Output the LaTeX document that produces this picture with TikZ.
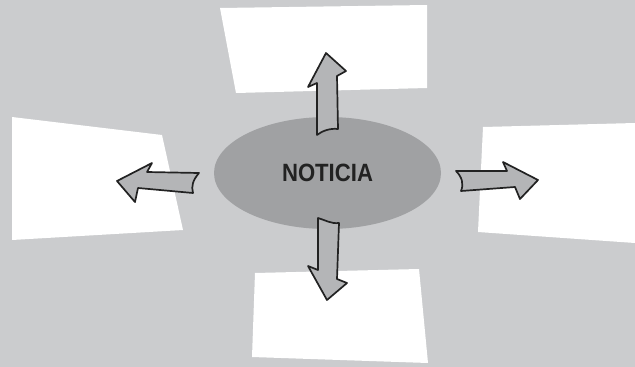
\documentclass[tikz,border=0pt]{standalone}
\usepackage{fontspec}
\setmainfont{Liberation Sans}
\usetikzlibrary{shapes.geometric}
\definecolor{bgc}{RGB}{203,204,206}
\definecolor{ellc}{RGB}{160,161,163}
\definecolor{arrc}{RGB}{180,181,183}
\definecolor{inkc}{RGB}{34,34,34}
\tikzset{
  card/.style={fill=white, draw=none},
  fatarrow/.style={fill=arrc, draw=inkc, line width=1.7pt, line join=round, line cap=round},
  hub/.style={ellipse, fill=ellc, draw=none, minimum width=227pt, minimum height=112pt, inner sep=0pt,
    font=\bfseries\fontsize{25}{25}\selectfont, text=inkc}
}
\begin{document}
\begin{tikzpicture}[x=1pt,y=-1pt]
\fill[bgc] (0,0) rectangle (635,367);
\useasboundingbox (0,0) rectangle (635,367);
% white cards
\fill[card] (220,8) -- (427,5) -- (427,88) -- (236,93) -- cycle;
\fill[card] (12,117) -- (162,135) -- (183,230) -- (12,240) -- cycle;
\fill[card] (483,127) -- (635,123) -- (635,243) -- (478,232) -- cycle;
\fill[card] (255,273) -- (419,269) -- (428,363) -- (252,357) -- cycle;
% hub
\node[hub] (hub) at (327.5,173) {\scalebox{0.885}[1]{NOTICIA}};
% up arrow
\draw[fatarrow] (326,53) -- (346,71) -- (337,76) -- (338,129)
  .. controls (330,128) and (322,131) .. (317,135) -- (317,83) -- (308,87) -- cycle;
% down arrow
\draw[fatarrow] (318,218) .. controls (325,220) and (331,224) .. (339,223)
  -- (337,279) -- (347,283) -- (327,300) -- (308,266) -- (318,270) -- cycle;
% left arrow
\draw[fatarrow] (117,181) -- (152,163) -- (147,172) -- (199,173)
  .. controls (193,180) and (191,186) .. (193,193) -- (138,188) -- (135,202) -- cycle;
% right arrow
\draw[fatarrow] (456,171) -- (507,171) -- (503,162) -- (538,180) -- (520,199) -- (515,187) -- (461,191)
  .. controls (464,184) and (462,177) .. (456,171) -- cycle;
\end{tikzpicture}
\end{document}
